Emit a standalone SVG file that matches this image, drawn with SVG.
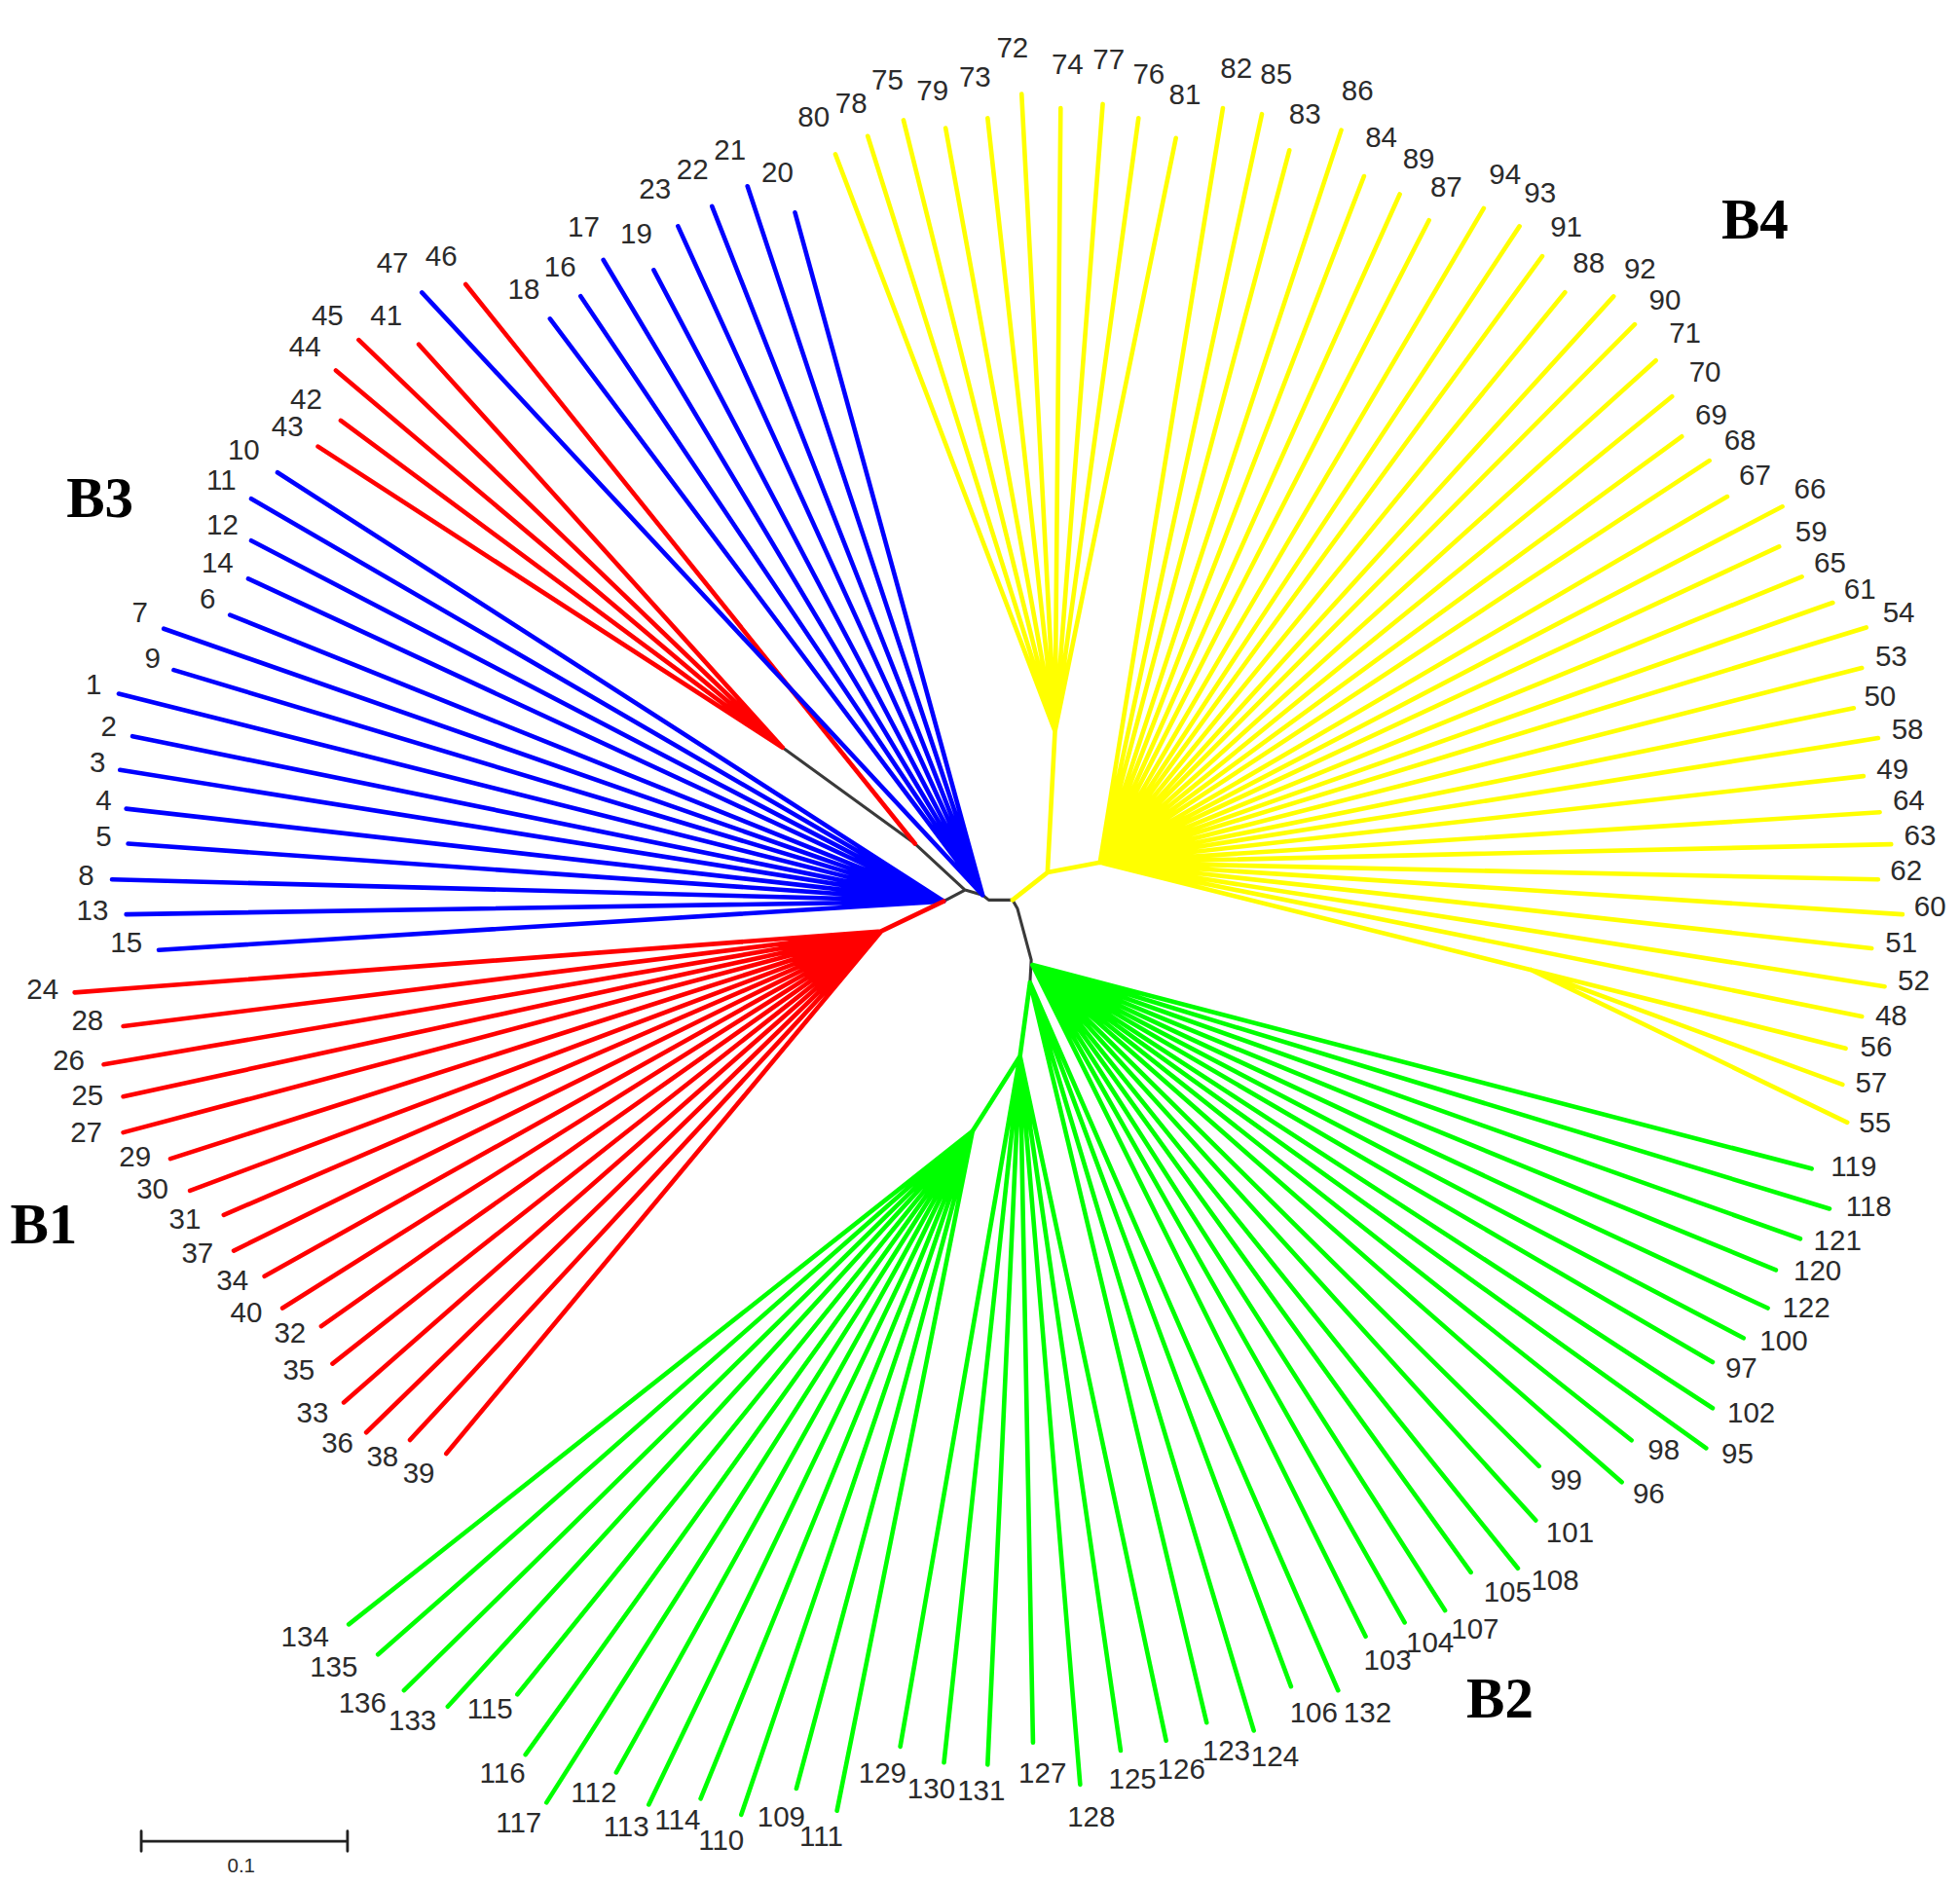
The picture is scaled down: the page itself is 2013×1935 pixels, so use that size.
<svg xmlns="http://www.w3.org/2000/svg" width="2013" height="1935" viewBox="0 0 2013 1935">
<style>
path{fill:none;stroke-width:3.6;stroke-linecap:round;stroke-linejoin:round}
.r{stroke:#ff0000}.b{stroke:#0000ff}.y{stroke:#ffff00}.g{stroke:#00ff00}.k{stroke:#3a3a3a;stroke-width:2.4}
.sb{stroke:#222;stroke-width:2.2}
text{font-family:"Liberation Sans",Arial,sans-serif;font-size:23px;fill:#2b2b2b;text-anchor:middle}
.cl{font-family:"Liberation Serif","Times New Roman",serif;font-weight:bold;font-size:46px;fill:#000}
.sc{font-size:16px}
</style>
<rect width="2013" height="1935" fill="#fff"/>
<g transform="scale(1.2838)">
<g id="edges">
<path class="k" d="M626 598L732 675L772 712L786 716L791 720L810 720L814 727L825 768L824 786M755 721L772 712"/>
<path class="r" d="M626 598L287 272M626 598L335 275.5M626 598L268.7 296.4M626 598L272.6 336.4M626 598L254.4 357.2M732 675L372.5 227.5"/>
<path class="b" d="M755 721L222 378M755 721L201 399M755 721L201 432.5M755 721L198.6 463M755 721L184 492M755 721L131 503M755 721L139 536M755 721L95 555M755 721L106 589M755 721L96 616M755 721L101 647M755 721L102.5 675M755 721L89.6 703.6M755 721L101 731.5M755 721L127 760"/>
<path class="b" d="M786 716L337.5 234M786 716L440 255M786 716L464.5 237M786 716L482.7 208M786 716L523 216M786 716L542.4 181M786 716L569.6 165M786 716L598 149M786 716L636 170"/>
<path class="r" d="M755 721L705 745M705 745L59.7 794M705 745L98.6 821M705 745L83 851.6M705 745L98.6 877.3M705 745L98.6 906M705 745L136.3 927M705 745L152 952.6M705 745L179 972M705 745L187 1000.6M705 745L211.6 1021M705 745L226 1046.5M705 745L257 1061M705 745L266 1091M705 745L275 1122M705 745L293 1146M705 745L328 1152M705 745L357 1163"/>
<path class="y" d="M810 720L838 698L844 585M838 698L880 690M844 585L668.3 123.4M844 585L694.2 108.9M844 585L722.8 96.1M844 585L756.5 102.5M844 585L790.1 94.5M844 585L817.3 75.3M844 585L848.5 86.5M844 585L882.2 83.3M844 585L910.8 94.5M844 585L940.7 110.5"/>
<path class="y" d="M880 690L978.3 86.5M880 690L1009.5 91.3M880 690L1031.5 120.2M880 690L1073 104.1M880 690L1091.2 141M880 690L1119.8 155.4M880 690L1143.2 176.2M880 690L1187 166.6M880 690L1215.6 181M880 690L1233.8 205M880 690L1252 233.9M880 690L1290.9 237.1M880 690L1307.8 259.5M880 690L1324.7 288.4M880 690L1337.6 317.2M880 690L1345.4 349.2M880 690L1367.5 368.5M880 690L1381.8 397.3M880 690L1425.9 405.3M880 690L1423.3 437.3M880 690L1441.5 461.4M880 690L1466.2 482.2M880 690L1493 502M880 690L1489.5 534.4M880 690L1483 566.5M880 690L1502.5 590.5M880 690L1490.8 620.9M880 690L1503.8 649.8M880 690L1512.9 675.4M880 690L1502.5 703.6M880 690L1522 731.5M880 690L1497.3 758.7M880 690L1507.7 789.2M880 690L1489.5 813.2M880 690L1225 776L1476.5 838.8M1225 776L1474 867.7M1225 776L1477.8 898"/>
<path class="g" d="M826 772L1449.3 935M826 772L1463.6 967M826 772L1440.2 991M826 772L1420.7 1016M826 772L1414.2 1046.5M826 772L1394.8 1070.5M826 772L1370.1 1089.7M826 772L1370.1 1126.5M826 772L1364.9 1158.6M826 772L1305.2 1152.2M826 772L1297.4 1185.8M826 772L1231.2 1173M826 772L1228.6 1216.3M826 772L1214.3 1254.7M826 772L1176.7 1257.9M826 772L1156 1288.4M826 772L1123.7 1298M826 772L1092.5 1309.2"/>
<path class="g" d="M824 786L1070.5 1352.4M824 786L1032.8 1349.2M824 786L1003 1384.5M824 786L965.3 1378.1M824 786L816 845L932.9 1392.5M816 845L896.5 1400.5M816 845L864.1 1427.7M816 845L826.4 1394.1M816 845L790.1 1411.7M816 845L755.2 1410.1M816 845L720.2 1397.3M816 845L778 905"/>
<path class="g" d="M778 905L669.6 1448.6M778 905L637.1 1430.9M778 905L593 1451.8M778 905L560.5 1438.9M778 905L519 1443.7M778 905L493 1418M778 905L437.2 1442.1M778 905L420.4 1403.7M778 905L413.9 1355.6M778 905L358.2 1365.3M778 905L323.2 1352.4M778 905L302.4 1323.6M778 905L279 1299.6"/>
</g>
<g id="n1"><text x="75" y="555">1</text></g>
<g id="n2"><text x="87" y="589">2</text></g>
<g id="n3"><text x="78" y="618">3</text></g>
<g id="n4"><text x="83" y="648">4</text></g>
<g id="n5"><text x="83" y="677">5</text></g>
<g id="n6"><text x="166" y="487">6</text></g>
<g id="n7"><text x="112" y="498">7</text></g>
<g id="n8"><text x="69" y="708">8</text></g>
<g id="n9"><text x="122" y="534">9</text></g>
<g id="n10"><text x="195" y="368">10</text></g>
<g id="n11"><text x="177" y="392">11</text></g>
<g id="n12"><text x="178" y="428">12</text></g>
<g id="n13"><text x="74" y="736">13</text></g>
<g id="n14"><text x="174" y="458">14</text></g>
<g id="n15"><text x="101" y="762">15</text></g>
<g id="n16"><text x="448" y="221">16</text></g>
<g id="n17"><text x="467" y="189">17</text></g>
<g id="n18"><text x="419" y="239">18</text></g>
<g id="n19"><text x="509" y="195">19</text></g>
<g id="n20"><text x="622" y="146">20</text></g>
<g id="n21"><text x="584" y="128">21</text></g>
<g id="n22"><text x="554" y="143">22</text></g>
<g id="n23"><text x="524" y="159">23</text></g>
<g id="n24"><text x="34" y="799">24</text></g>
<g id="n25"><text x="70" y="884">25</text></g>
<g id="n26"><text x="55" y="856">26</text></g>
<g id="n27"><text x="69" y="914">27</text></g>
<g id="n28"><text x="70" y="824">28</text></g>
<g id="n29"><text x="108" y="933">29</text></g>
<g id="n30"><text x="122" y="959">30</text></g>
<g id="n31"><text x="148" y="983">31</text></g>
<g id="n32"><text x="232" y="1074">32</text></g>
<g id="n33"><text x="250" y="1138">33</text></g>
<g id="n34"><text x="186" y="1032">34</text></g>
<g id="n35"><text x="239" y="1104">35</text></g>
<g id="n36"><text x="270" y="1162">36</text></g>
<g id="n37"><text x="158" y="1010">37</text></g>
<g id="n38"><text x="306" y="1173">38</text></g>
<g id="n39"><text x="335" y="1186">39</text></g>
<g id="n40"><text x="197" y="1058">40</text></g>
<g id="n41"><text x="309" y="260">41</text></g>
<g id="n42"><text x="245" y="327">42</text></g>
<g id="n43"><text x="230" y="349">43</text></g>
<g id="n44"><text x="244" y="285">44</text></g>
<g id="n45"><text x="262" y="260">45</text></g>
<g id="n46"><text x="353" y="213">46</text></g>
<g id="n47"><text x="314" y="218">47</text></g>
<g id="n48"><text x="1513" y="820">48</text></g>
<g id="n49"><text x="1514" y="623">49</text></g>
<g id="n50"><text x="1504" y="565">50</text></g>
<g id="n51"><text x="1521" y="762">51</text></g>
<g id="n52"><text x="1531" y="792">52</text></g>
<g id="n53"><text x="1513" y="533">53</text></g>
<g id="n54"><text x="1519" y="498">54</text></g>
<g id="n55"><text x="1500" y="906">55</text></g>
<g id="n56"><text x="1501" y="845">56</text></g>
<g id="n57"><text x="1497" y="874">57</text></g>
<g id="n58"><text x="1526" y="591">58</text></g>
<g id="n59"><text x="1449" y="433">59</text></g>
<g id="n60"><text x="1544" y="733">60</text></g>
<g id="n61"><text x="1488" y="479">61</text></g>
<g id="n62"><text x="1525" y="704">62</text></g>
<g id="n63"><text x="1536" y="676">63</text></g>
<g id="n64"><text x="1527" y="648">64</text></g>
<g id="n65"><text x="1464" y="458">65</text></g>
<g id="n66"><text x="1448" y="399">66</text></g>
<g id="n67"><text x="1404" y="388">67</text></g>
<g id="n68"><text x="1392" y="360">68</text></g>
<g id="n69"><text x="1369" y="340">69</text></g>
<g id="n70"><text x="1364" y="305">70</text></g>
<g id="n71"><text x="1348" y="274">71</text></g>
<g id="n72"><text x="810" y="46">72</text></g>
<g id="n73"><text x="780" y="69">73</text></g>
<g id="n74"><text x="854" y="59">74</text></g>
<g id="n75"><text x="710" y="72">75</text></g>
<g id="n76"><text x="919" y="67">76</text></g>
<g id="n77"><text x="887" y="55">77</text></g>
<g id="n78"><text x="681" y="90">78</text></g>
<g id="n79"><text x="746" y="80">79</text></g>
<g id="n80"><text x="651" y="101">80</text></g>
<g id="n81"><text x="948" y="83">81</text></g>
<g id="n82"><text x="989" y="62">82</text></g>
<g id="n83"><text x="1044" y="99">83</text></g>
<g id="n84"><text x="1105" y="118">84</text></g>
<g id="n85"><text x="1021" y="67">85</text></g>
<g id="n86"><text x="1086" y="80">86</text></g>
<g id="n87"><text x="1157" y="157">87</text></g>
<g id="n88"><text x="1271" y="218">88</text></g>
<g id="n89"><text x="1135" y="135">89</text></g>
<g id="n90"><text x="1332" y="248">90</text></g>
<g id="n91"><text x="1253" y="189">91</text></g>
<g id="n92"><text x="1312" y="223">92</text></g>
<g id="n93"><text x="1232" y="162">93</text></g>
<g id="n94"><text x="1204" y="147">94</text></g>
<g id="n95"><text x="1390" y="1171">95</text></g>
<g id="n96"><text x="1319" y="1203">96</text></g>
<g id="n97"><text x="1393" y="1102">97</text></g>
<g id="n98"><text x="1331" y="1168">98</text></g>
<g id="n99"><text x="1253" y="1192">99</text></g>
<g id="n100"><text x="1427" y="1080">100</text></g>
<g id="n101"><text x="1256" y="1234">101</text></g>
<g id="n102"><text x="1401" y="1138">102</text></g>
<g id="n103"><text x="1110" y="1336">103</text></g>
<g id="n104"><text x="1144" y="1322">104</text></g>
<g id="n105"><text x="1206" y="1281">105</text></g>
<g id="n106"><text x="1051" y="1378">106</text></g>
<g id="n107"><text x="1180" y="1311">107</text></g>
<g id="n108"><text x="1244" y="1272">108</text></g>
<g id="n109"><text x="625" y="1461">109</text></g>
<g id="n110"><text x="577" y="1480">110</text></g>
<g id="n111"><text x="657" y="1477">111</text></g>
<g id="n112"><text x="475" y="1442">112</text></g>
<g id="n113"><text x="501" y="1469">113</text></g>
<g id="n114"><text x="542" y="1464">114</text></g>
<g id="n115"><text x="392" y="1375">115</text></g>
<g id="n116"><text x="402" y="1426">116</text></g>
<g id="n117"><text x="415" y="1466">117</text></g>
<g id="n118"><text x="1495" y="973">118</text></g>
<g id="n119"><text x="1483" y="941">119</text></g>
<g id="n120"><text x="1454" y="1024">120</text></g>
<g id="n121"><text x="1470" y="1000">121</text></g>
<g id="n122"><text x="1445" y="1054">122</text></g>
<g id="n123"><text x="981" y="1408">123</text></g>
<g id="n124"><text x="1020" y="1413">124</text></g>
<g id="n125"><text x="906" y="1431">125</text></g>
<g id="n126"><text x="945" y="1423">126</text></g>
<g id="n127"><text x="834" y="1426">127</text></g>
<g id="n128"><text x="873" y="1461">128</text></g>
<g id="n129"><text x="706" y="1426">129</text></g>
<g id="n130"><text x="745" y="1439">130</text></g>
<g id="n131"><text x="785" y="1440">131</text></g>
<g id="n132"><text x="1094" y="1378">132</text></g>
<g id="n133"><text x="330" y="1384">133</text></g>
<g id="n134"><text x="244" y="1317">134</text></g>
<g id="n135"><text x="267" y="1341">135</text></g>
<g id="n136"><text x="290" y="1370">136</text></g>
<g id="B1"><text class="cl" x="35" y="995">B1</text></g>
<g id="B2"><text class="cl" x="1200" y="1374">B2</text></g>
<g id="B3"><text class="cl" x="80" y="414">B3</text></g>
<g id="B4"><text class="cl" x="1404" y="191">B4</text></g>
<g id="scalebar">
<path class="sb" d="M113 1473H278M113 1465V1481M278 1465V1481"/>
<text class="sc" x="193" y="1498">0.1</text>
</g>
</g>
</svg>
